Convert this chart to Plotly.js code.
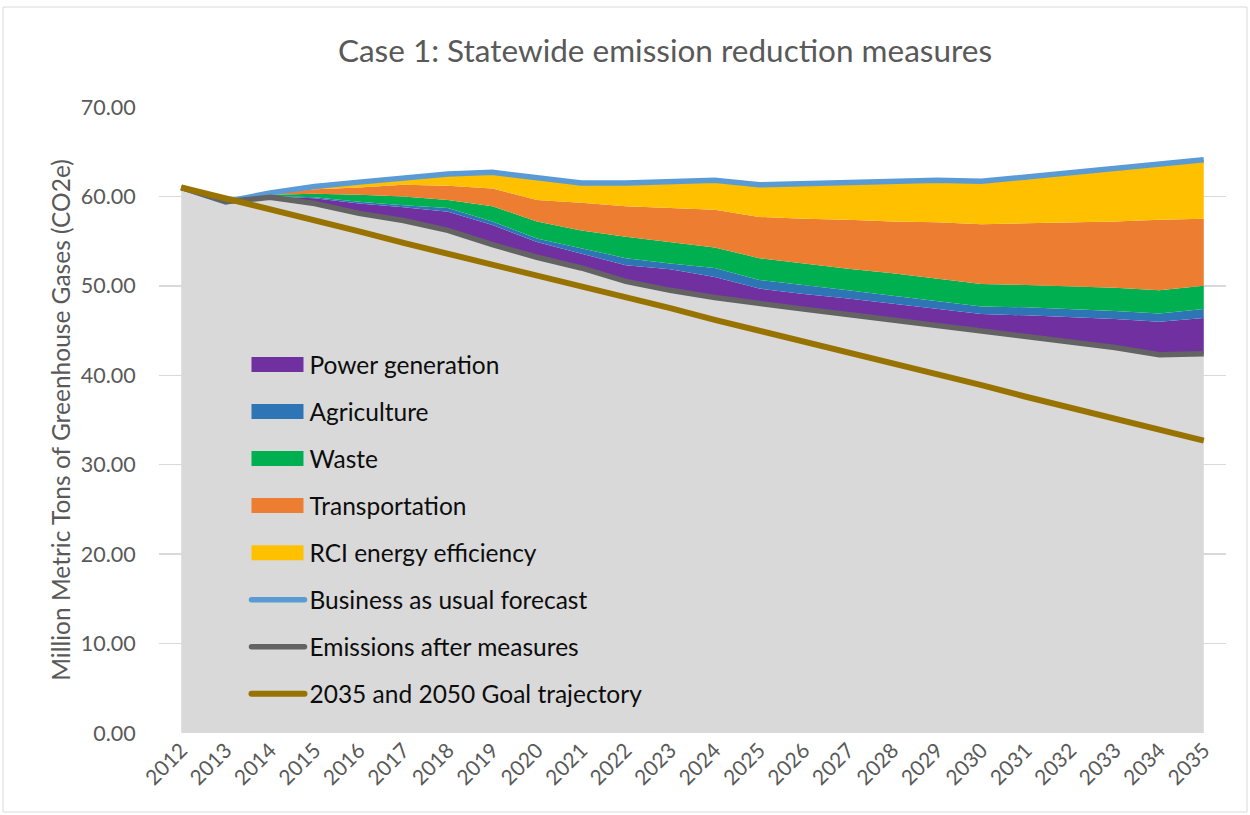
<!DOCTYPE html>
<html>
<head>
<meta charset="utf-8">
<script src="https://cdn.plot.ly/plotly-3.0.1.min.js"></script>
<style>
  html, body { margin: 0; padding: 0; background: #fff; }
  #chart { width: 1250px; height: 815px; }
</style>
</head>
<body>
<div id="chart"></div>
<script>
// ---- data ----
const years = [2012,2013,2014,2015,2016,2017,2018,2019,2020,2021,2022,2023,
               2024,2025,2026,2027,2028,2029,2030,2031,2032,2033,2034,2035];

// Emissions after measures (million metric tons CO2e)
const emissionsAfter = [61.0,59.4,59.9,59.2,58.1,57.3,56.2,54.6,53.2,52.0,50.5,49.5,
                        48.7,48.0,47.4,46.8,46.2,45.6,45.0,44.4,43.8,43.1,42.3,42.4];

// Reductions by measure (stacked on top of emissions after measures)
const powerGeneration = [0,0,0.1,0.6,1.1,1.5,2.1,2.2,1.7,1.6,1.8,2.35,
                         2.3,1.7,1.7,1.8,1.8,1.8,1.85,2.3,2.7,3.2,3.7,4.0];
const agriculture     = [0,0,0.05,0.1,0.2,0.2,0.4,0.4,0.4,0.6,0.8,0.65,
                         1.0,0.95,1.0,0.9,0.9,0.9,0.85,0.9,0.9,0.9,0.9,1.0];
const waste           = [0,0,0.15,0.4,0.8,1.0,0.9,1.7,1.9,2.0,2.4,2.4,
                         2.3,2.45,2.4,2.4,2.5,2.5,2.5,2.5,2.55,2.6,2.6,2.6];
const transportation  = [0,0,0.1,0.5,0.8,1.3,1.6,2.0,2.4,3.1,3.4,3.8,
                         4.2,4.6,5.0,5.5,5.8,6.3,6.7,6.9,7.15,7.4,7.9,7.5];
const rciEfficiency   = [0,0,0.1,0.3,0.6,0.8,1.3,1.8,2.5,2.2,2.6,2.9,
                         3.3,3.6,3.9,4.1,4.4,4.7,4.8,5.2,5.6,5.9,6.3,6.6];

// Business as usual forecast
const businessAsUsual = [61.0,59.4,60.4,61.1,61.6,62.1,62.5,62.7,62.1,61.5,61.5,61.6,
                         61.8,61.3,61.4,61.5,61.6,61.8,61.7,62.2,62.7,63.1,63.7,64.1];

// 2035 and 2050 goal trajectory
const goalTrajectory = [61.0,59.8,58.5,57.3,56.1,54.8,53.6,52.4,51.2,49.9,48.7,47.5,
                        46.2,45.0,43.8,42.5,41.3,40.1,38.9,37.6,36.4,35.2,33.9,32.7];

const yTicks = [0,10,20,30,40,50,60,70];

const FONT = 'Lato, "Open Sans", "Liberation Sans", sans-serif';
const TXT = '#595959';

function areaTrace(name, values, color, show) {
  return {
    x: years, y: values, name: name, type: 'scatter', mode: 'lines',
    stackgroup: 'stack', fillcolor: color,
    line: {width: 0, color: color},
    showlegend: show, legendgroup: name, hoverinfo: 'skip'
  };
}
function lineTrace(name, values, color, width) {
  return {
    x: years, y: values, name: name, type: 'scatter', mode: 'lines',
    line: {color: color, width: width},
    legendgroup: name, hoverinfo: 'skip'
  };
}

const traces = [
  areaTrace('Emissions base', emissionsAfter, '#D9D9D9', false),
  areaTrace('Power generation', powerGeneration, '#7030A0', true),
  areaTrace('Agriculture', agriculture, '#2E75B6', true),
  areaTrace('Waste', waste, '#00B050', true),
  areaTrace('Transportation', transportation, '#ED7D31', true),
  areaTrace('RCI energy efficiency', rciEfficiency, '#FFC000', true),
  lineTrace('Business as usual forecast', businessAsUsual, '#5B9BD5', 5.5),
  lineTrace('Emissions after measures', emissionsAfter, '#636363', 5.5),
  lineTrace('2035 and 2050 Goal trajectory', goalTrajectory, '#997300', 6)
];

const layout = {
  width: 1250, height: 815,
  paper_bgcolor: '#ffffff', plot_bgcolor: '#ffffff',
  margin: {l: 159, r: 24, t: 107, b: 82},
  font: {family: FONT, color: TXT},
  title: {
    text: 'Case 1: Statewide emission reduction measures',
    font: {family: FONT, size: 31.5, color: TXT},
    xref: 'container', x: 0.532, xanchor: 'center', y: 0.938, yanchor: 'middle'
  },
  xaxis: {
    range: [2011.5, 2035.5],
    tickmode: 'array', tickvals: years, ticktext: years.map(String),
    tickangle: -45,
    tickfont: {family: FONT, size: 21, color: TXT},
    showgrid: false, zeroline: false, showline: false,
    ticks: '', fixedrange: true
  },
  yaxis: {
    range: [0, 70],
    tickmode: 'array', tickvals: yTicks, ticktext: yTicks.map(v => v.toFixed(2)),
    tickfont: {family: FONT, size: 21.5, color: TXT},
    showgrid: true, gridcolor: '#D9D9D9', gridwidth: 1.3,
    zeroline: false, showline: false,
    ticks: 'outside', ticklen: 18, tickcolor: 'rgba(0,0,0,0)',
    automargin: false,
    title: {
      text: 'Million Metric Tons of Greenhouse Gases (CO2e)',
      font: {family: FONT, size: 24.5, color: TXT},
      standoff: 3
    },
    fixedrange: true
  },
  legend: {
    x: 0.082, y: 0.6246, xanchor: 'left', yanchor: 'top',
    bgcolor: 'rgba(0,0,0,0)',
    font: {family: FONT, size: 24.5, color: '#0D0D0D'},
    traceorder: 'grouped', tracegroupgap: 12.2, itemwidth: 53
  },
  shapes: [{
    type: 'rect', xref: 'paper', yref: 'paper',
    x0: -156/1067, x1: 1088/1067, y0: -79/626, y1: 726/626,
    line: {color: '#D9D9D9', width: 1}, fillcolor: 'rgba(0,0,0,0)', layer: 'below'
  }],
  showlegend: true,
  hovermode: false
};

Plotly.newPlot('chart', traces, layout, {displayModeBar: false, staticPlot: true}).then(function (gd) {
  // Excel-style legend keys: taller filled rectangles for the area series
  gd.querySelectorAll('.legendfill path').forEach(function (p) {
    p.setAttribute('d', 'M5,-7.5h52v15h-52z');
  });
  gd.querySelectorAll('.legendlines path').forEach(function (p) {
    p.style.strokeLinecap = 'round';
  });
});
</script>
</body>
</html>
